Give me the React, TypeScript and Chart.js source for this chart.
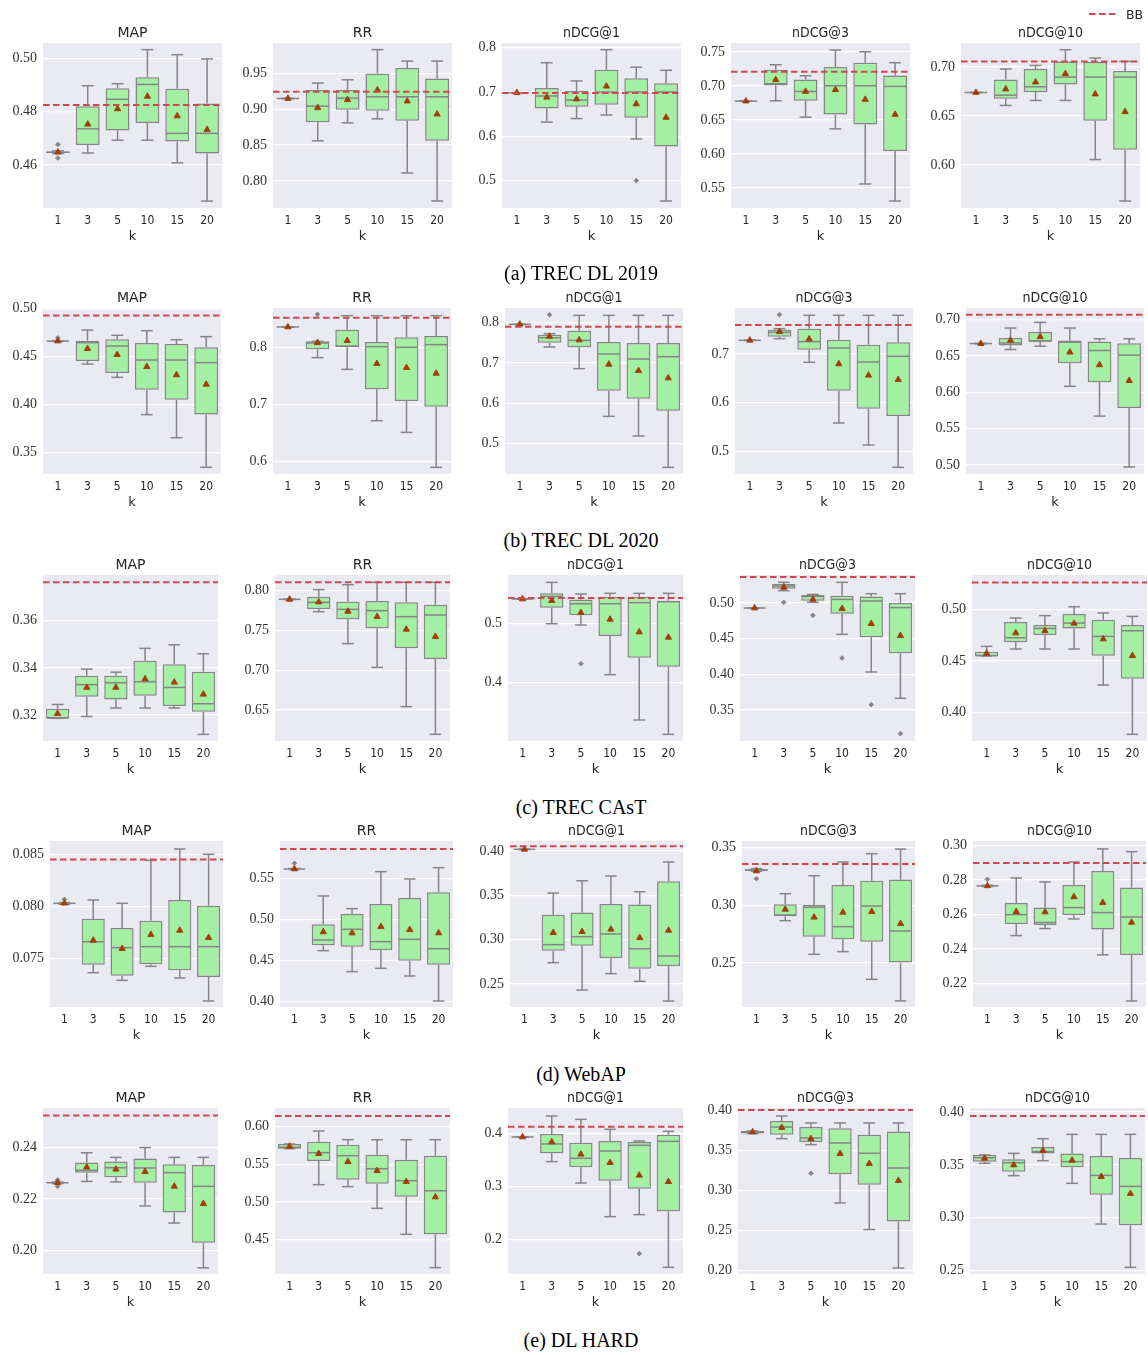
import React, { useEffect, useRef } from "react";
import { Chart, registerables } from "chart.js";

Chart.register(...registerables);

// ---------------- DATA ----------------
const K_LABELS = ["1", "3", "5", "10", "15", "20"];
const METRICS = ["MAP", "RR", "nDCG@1", "nDCG@3", "nDCG@10"];
const CAPTIONS = ["(a) TREC DL 2019", "(b) TREC DL 2020", "(c) TREC CAsT", "(d) WebAP", "(e) DL HARD"];
const LEGEND_LABEL = "BB";

// each row: [whiskerLow, q1, median, q3, whiskerHigh, mean] for k = 1,3,5,10,15,20
// ---- (a) TREC DL 2019
const DL19_MAP = [
  [0.4643, 0.4645, 0.4648, 0.4651, 0.4653, 0.4648],
  [0.4645, 0.4675, 0.4736, 0.4821, 0.4898, 0.4753],
  [0.4693, 0.473, 0.4847, 0.4889, 0.4906, 0.4811],
  [0.4693, 0.4758, 0.4903, 0.493, 0.5034, 0.4858],
  [0.4608, 0.4688, 0.4719, 0.4887, 0.5015, 0.4784],
  [0.4464, 0.4643, 0.4719, 0.4831, 0.4999, 0.4733],
];
const DL19_RR = [
  [0.9148, 0.9148, 0.915, 0.9152, 0.9152, 0.915],
  [0.8559, 0.882, 0.9043, 0.9267, 0.9365, 0.902],
  [0.881, 0.8992, 0.9155, 0.9267, 0.9411, 0.9132],
  [0.8866, 0.8978, 0.9174, 0.95, 0.9831, 0.9267],
  [0.8111, 0.8838, 0.9174, 0.9575, 0.9672, 0.9113],
  [0.772, 0.8559, 0.9174, 0.943, 0.9672, 0.8931],
];
const DL19_NDCG1 = [
  [0.698, 0.698, 0.6983, 0.6986, 0.6986, 0.6983],
  [0.632, 0.663, 0.691, 0.709, 0.766, 0.688],
  [0.64, 0.667, 0.682, 0.702, 0.725, 0.684],
  [0.648, 0.671, 0.7, 0.75, 0.7955, 0.713],
  [0.594, 0.642, 0.7, 0.731, 0.756, 0.673],
  [0.454, 0.577, 0.7, 0.72, 0.749, 0.6425],
];
const DL19_NDCG3 = [
  [0.6775, 0.6775, 0.6778, 0.678, 0.678, 0.6778],
  [0.6783, 0.7009, 0.7033, 0.724, 0.7313, 0.7092],
  [0.6542, 0.6783, 0.692, 0.7097, 0.7151, 0.692],
  [0.637, 0.6581, 0.7004, 0.7279, 0.753, 0.6945],
  [0.5559, 0.6434, 0.7004, 0.7343, 0.7505, 0.6802],
  [0.5308, 0.6045, 0.6994, 0.7156, 0.7343, 0.6581],
];
const DL19_NDCG10 = [
  [0.6738, 0.6738, 0.674, 0.6742, 0.6742, 0.674],
  [0.6608, 0.6676, 0.6713, 0.6874, 0.698, 0.6775],
  [0.6659, 0.6744, 0.6799, 0.698, 0.7017, 0.6846],
  [0.6659, 0.6823, 0.6898, 0.7058, 0.7177, 0.6932],
  [0.6055, 0.6451, 0.6898, 0.7051, 0.7092, 0.6724],
  [0.5631, 0.6154, 0.6898, 0.6959, 0.7058, 0.6543],
];
const DL19_OUT = [[[0, 0.4677], [0, 0.4626]], [], [[4, 0.5]], [], []];
const DL19_BB = [0.4826, 0.9244, 0.698, 0.721, 0.7058];
const DL19_TICKS = [
  ["0.46", "0.48", "0.50"],
  ["0.80", "0.85", "0.90", "0.95"],
  ["0.5", "0.6", "0.7", "0.8"],
  ["0.55", "0.60", "0.65", "0.70", "0.75"],
  ["0.60", "0.65", "0.70"],
];
const DL19_YMIN = [0.4438, 0.7622, 0.4382, 0.5205, 0.556];
const DL19_YMAX = [0.5059, 0.9924, 0.8106, 0.7633, 0.7246];

// ---- (b) TREC DL 2020
const DL20_MAP = [
  [0.4658, 0.466, 0.4662, 0.4664, 0.4666, 0.4662],
  [0.4422, 0.4454, 0.4645, 0.4666, 0.4777, 0.4582],
  [0.4283, 0.4328, 0.461, 0.468, 0.4722, 0.452],
  [0.3894, 0.4154, 0.4464, 0.4642, 0.477, 0.4395],
  [0.3653, 0.405, 0.4464, 0.4631, 0.4676, 0.4308],
  [0.3344, 0.3894, 0.4436, 0.4596, 0.4708, 0.421],
];
const DL20_RR = [
  [0.836, 0.8361, 0.8363, 0.8365, 0.8366, 0.8363],
  [0.7825, 0.7971, 0.8082, 0.8111, 0.8111, 0.8088],
  [0.762, 0.8006, 0.8029, 0.8316, 0.8561, 0.8123],
  [0.6719, 0.7269, 0.8018, 0.8099, 0.8561, 0.7719],
  [0.6515, 0.7064, 0.8006, 0.8181, 0.8561, 0.7649],
  [0.5901, 0.6965, 0.8053, 0.8205, 0.8561, 0.755],
];
const DL20_NDCG1 = [
  [0.7955, 0.7958, 0.796, 0.7962, 0.7965, 0.796],
  [0.7397, 0.7504, 0.7628, 0.7702, 0.7727, 0.7661],
  [0.686, 0.7388, 0.7562, 0.7802, 0.8182, 0.757],
  [0.5678, 0.6314, 0.7223, 0.7521, 0.8182, 0.6967],
  [0.519, 0.6116, 0.7099, 0.7496, 0.8182, 0.681],
  [0.4413, 0.5818, 0.7157, 0.7496, 0.8182, 0.6628],
];
const DL20_NDCG3 = [
  [0.7278, 0.7279, 0.7281, 0.7283, 0.7284, 0.7281],
  [0.7315, 0.7356, 0.7445, 0.75, 0.752, 0.7459],
  [0.6829, 0.7089, 0.7253, 0.752, 0.7795, 0.7308],
  [0.5582, 0.6247, 0.7123, 0.7295, 0.7795, 0.6795],
  [0.513, 0.5877, 0.6836, 0.7192, 0.7795, 0.6562],
  [0.4671, 0.5726, 0.6952, 0.724, 0.7795, 0.6473],
];
const DL20_NDCG10 = [
  [0.6668, 0.6669, 0.6671, 0.6673, 0.6675, 0.6671],
  [0.659, 0.6645, 0.668, 0.6747, 0.6885, 0.6714],
  [0.6636, 0.67, 0.6705, 0.683, 0.6963, 0.6765],
  [0.6083, 0.64, 0.669, 0.6714, 0.6885, 0.6553],
  [0.5673, 0.6138, 0.6576, 0.67, 0.6737, 0.6378],
  [0.4972, 0.5783, 0.6512, 0.6677, 0.6737, 0.6161],
];
const DL20_OUT = [[[0, 0.4695]], [[1, 0.8585]], [[1, 0.8198]], [[1, 0.7808]], []];
const DL20_BB = [0.493, 0.8526, 0.79, 0.7596, 0.7069];
const DL20_TICKS = [
  ["0.35", "0.40", "0.45", "0.50"],
  ["0.6", "0.7", "0.8"],
  ["0.5", "0.6", "0.7", "0.8"],
  ["0.5", "0.6", "0.7"],
  ["0.50", "0.55", "0.60", "0.65", "0.70"],
];
const DL20_YMIN = [0.3274, 0.5784, 0.4248, 0.4534, 0.4876];
const DL20_YMAX = [0.5007, 0.8696, 0.8364, 0.7945, 0.7161];

// ---- (c) TREC CAsT
const CAST_MAP = [
  [0.3186, 0.3186, 0.3187, 0.3227, 0.3245, 0.3206],
  [0.3194, 0.3278, 0.3329, 0.3367, 0.3395, 0.3317],
  [0.323, 0.3266, 0.3337, 0.3367, 0.3382, 0.3317],
  [0.323, 0.3282, 0.3341, 0.343, 0.3483, 0.3353],
  [0.323, 0.3238, 0.3317, 0.3416, 0.3498, 0.3339],
  [0.3118, 0.3214, 0.3248, 0.3384, 0.346, 0.3288],
];
const CAST_RR = [
  [0.7888, 0.7889, 0.7891, 0.7893, 0.7894, 0.7891],
  [0.7736, 0.7769, 0.7853, 0.7925, 0.8013, 0.7857],
  [0.7334, 0.764, 0.7765, 0.7862, 0.8075, 0.774],
  [0.7036, 0.7526, 0.7749, 0.787, 0.8105, 0.7673],
  [0.6542, 0.7275, 0.7673, 0.7853, 0.8105, 0.7514],
  [0.6194, 0.7141, 0.7694, 0.7824, 0.8105, 0.7422],
];
const CAST_NDCG1 = [
  [0.5405, 0.5407, 0.541, 0.5413, 0.5415, 0.541],
  [0.4994, 0.5264, 0.5455, 0.5506, 0.5691, 0.5382],
  [0.4972, 0.5135, 0.5331, 0.5404, 0.5494, 0.518],
  [0.4135, 0.4787, 0.5331, 0.5449, 0.5506, 0.5067],
  [0.3371, 0.4421, 0.5348, 0.5449, 0.5506, 0.4854],
  [0.3129, 0.427, 0.5365, 0.5382, 0.5506, 0.4764],
];
const CAST_NDCG3 = [
  [0.4926, 0.4928, 0.493, 0.4932, 0.4934, 0.493],
  [0.5173, 0.5201, 0.5238, 0.5266, 0.529, 0.522],
  [0.501, 0.5033, 0.5093, 0.5112, 0.5121, 0.5051],
  [0.4561, 0.485, 0.5051, 0.5103, 0.529, 0.4921],
  [0.4033, 0.4519, 0.5028, 0.5093, 0.5131, 0.471],
  [0.3664, 0.4294, 0.4935, 0.5, 0.5131, 0.4542],
];
const CAST_NDCG10 = [
  [0.4549, 0.4549, 0.4552, 0.4591, 0.4643, 0.4575],
  [0.4617, 0.4682, 0.4727, 0.488, 0.4919, 0.4773],
  [0.4617, 0.4753, 0.4818, 0.4851, 0.4942, 0.4795],
  [0.4617, 0.4818, 0.487, 0.4958, 0.5029, 0.4867],
  [0.4266, 0.4552, 0.474, 0.4903, 0.4968, 0.4714],
  [0.3786, 0.4328, 0.4795, 0.4851, 0.4935, 0.4552],
];
const CAST_OUT = [
  [],
  [],
  [[2, 0.432]],
  [[1, 0.501], [2, 0.4827], [3, 0.4229], [4, 0.3575], [5, 0.3168]],
  [],
];
const CAST_BB = [0.3763, 0.8105, 0.5427, 0.5364, 0.5266];
const CAST_TICKS = [
  ["0.32", "0.34", "0.36"],
  ["0.65", "0.70", "0.75", "0.80"],
  ["0.4", "0.5"],
  ["0.35", "0.40", "0.45", "0.50"],
  ["0.40", "0.45", "0.50"],
];
const CAST_YMIN = [0.309, 0.611, 0.3017, 0.3065, 0.3721];
const CAST_YMAX = [0.3794, 0.8197, 0.5815, 0.5393, 0.5338];

// ---- (d) WebAP
const WEBAP_MAP = [
  [0.0802, 0.08025, 0.08029, 0.08033, 0.08036, 0.08029],
  [0.07362, 0.07439, 0.0766, 0.07881, 0.08061, 0.07673],
  [0.07288, 0.07333, 0.07603, 0.07792, 0.08029, 0.07593],
  [0.07423, 0.07442, 0.07612, 0.07862, 0.08442, 0.07728],
  [0.07311, 0.07385, 0.07612, 0.08061, 0.08551, 0.07769],
  [0.0709, 0.0732, 0.07612, 0.08006, 0.085, 0.07699],
];
const WEBAP_RR = [
  [0.5612, 0.5615, 0.5618, 0.5621, 0.5624, 0.5618],
  [0.4622, 0.4687, 0.4752, 0.4943, 0.5289, 0.485],
  [0.4366, 0.4671, 0.4882, 0.5069, 0.5134, 0.4837],
  [0.4407, 0.463, 0.4732, 0.5191, 0.5585, 0.4915],
  [0.4313, 0.45, 0.476, 0.5264, 0.5496, 0.4878],
  [0.4008, 0.4451, 0.4646, 0.5333, 0.5634, 0.4837],
];
const WEBAP_NDCG1 = [
  [0.4015, 0.4017, 0.4019, 0.4021, 0.4023, 0.4019],
  [0.2741, 0.2876, 0.2944, 0.3282, 0.3526, 0.3079],
  [0.2432, 0.2932, 0.3034, 0.3308, 0.3665, 0.309],
  [0.2617, 0.2793, 0.3064, 0.3402, 0.3718, 0.3117],
  [0.253, 0.2673, 0.2898, 0.3398, 0.3541, 0.3023],
  [0.2308, 0.2703, 0.2816, 0.3658, 0.3876, 0.3105],
];
const WEBAP_NDCG3 = [
  [0.3295, 0.3298, 0.3306, 0.3314, 0.3318, 0.3298],
  [0.2867, 0.2905, 0.2916, 0.3009, 0.3101, 0.2965],
  [0.2575, 0.2728, 0.2983, 0.3003, 0.3257, 0.2896],
  [0.2598, 0.2705, 0.2815, 0.3176, 0.3376, 0.2939],
  [0.2358, 0.2685, 0.2994, 0.3214, 0.3448, 0.2945],
  [0.2171, 0.2503, 0.2777, 0.3223, 0.3488, 0.2841],
];
const WEBAP_NDCG10 = [
  [0.2762, 0.2764, 0.2766, 0.2768, 0.277, 0.2766],
  [0.2477, 0.2545, 0.2599, 0.2667, 0.2812, 0.2616],
  [0.2518, 0.2539, 0.2553, 0.264, 0.2789, 0.2614],
  [0.2574, 0.2597, 0.264, 0.2771, 0.2905, 0.2702],
  [0.2365, 0.2512, 0.2611, 0.2853, 0.2981, 0.2669],
  [0.2097, 0.2365, 0.2585, 0.2756, 0.2965, 0.2554],
];
const WEBAP_OUT = [[[0, 0.08067]], [[0, 0.5687]], [], [[0, 0.3231]], [[0, 0.2804]]];
const WEBAP_BB = [0.08449, 0.5862, 0.4053, 0.3358, 0.2899];
const WEBAP_TICKS = [
  ["0.075", "0.080", "0.085"],
  ["0.40", "0.45", "0.50", "0.55"],
  ["0.25", "0.30", "0.35", "0.40"],
  ["0.25", "0.30", "0.35"],
  ["0.22", "0.24", "0.26", "0.28", "0.30"],
];
const WEBAP_YMIN = [0.07032, 0.3935, 0.2241, 0.2118, 0.2062];
const WEBAP_YMAX = [0.08628, 0.5959, 0.4113, 0.3558, 0.3027];

// ---- (e) DL HARD
const DLHARD_MAP = [
  [0.226, 0.2261, 0.2263, 0.2265, 0.2266, 0.2263],
  [0.2268, 0.2302, 0.2311, 0.2341, 0.2379, 0.2323],
  [0.2266, 0.2284, 0.2321, 0.2345, 0.2361, 0.2315],
  [0.2173, 0.2263, 0.232, 0.2357, 0.2399, 0.2306],
  [0.2107, 0.2148, 0.2302, 0.2334, 0.2361, 0.2249],
  [0.1934, 0.2031, 0.2249, 0.2332, 0.2361, 0.2182],
];
const DLHARD_RR = [
  [0.5708, 0.5708, 0.5726, 0.577, 0.577, 0.5739],
  [0.523, 0.5544, 0.5655, 0.5801, 0.5942, 0.5642],
  [0.5204, 0.5296, 0.5615, 0.5761, 0.5827, 0.5535],
  [0.4916, 0.5243, 0.5442, 0.5628, 0.5827, 0.5416],
  [0.4571, 0.5071, 0.5283, 0.5562, 0.5827, 0.527],
  [0.4128, 0.4571, 0.515, 0.5615, 0.5827, 0.5066],
];
const DLHARD_NDCG1 = [
  [0.3932, 0.3934, 0.3937, 0.394, 0.3942, 0.3937],
  [0.3472, 0.3629, 0.3805, 0.3994, 0.4333, 0.3843],
  [0.3069, 0.3365, 0.3535, 0.383, 0.427, 0.361],
  [0.2434, 0.3113, 0.3673, 0.3862, 0.4082, 0.3453],
  [0.2472, 0.2962, 0.378, 0.3843, 0.3862, 0.3214],
  [0.1478, 0.2535, 0.3855, 0.3981, 0.4044, 0.3094],
];
const DLHARD_NDCG3 = [
  [0.3713, 0.3713, 0.3733, 0.3746, 0.3746, 0.3733],
  [0.365, 0.37, 0.3796, 0.3871, 0.3933, 0.3788],
  [0.3575, 0.3608, 0.3658, 0.3796, 0.3846, 0.365],
  [0.2846, 0.3204, 0.3596, 0.3779, 0.3846, 0.3463],
  [0.2513, 0.3075, 0.3467, 0.37, 0.3846, 0.3338],
  [0.2033, 0.2613, 0.3283, 0.3738, 0.3846, 0.3125],
];
const DLHARD_NDCG10 = [
  [0.3515, 0.3531, 0.3568, 0.3594, 0.3594, 0.3562],
  [0.3398, 0.3436, 0.3521, 0.3553, 0.3609, 0.3499],
  [0.354, 0.3609, 0.3625, 0.3669, 0.3748, 0.3635],
  [0.3326, 0.3477, 0.3531, 0.3609, 0.3789, 0.3543],
  [0.2941, 0.3219, 0.3401, 0.3584, 0.3789, 0.3389],
  [0.2532, 0.2929, 0.3297, 0.3565, 0.3789, 0.3228],
];
const DLHARD_OUT = [[[0, 0.2274], [0, 0.2249]], [], [[4, 0.1736]], [[2, 0.3217]], []];
const DLHARD_BB = [0.2523, 0.6142, 0.4132, 0.4008, 0.3962];
const DLHARD_TICKS = [
  ["0.20", "0.22", "0.24"],
  ["0.45", "0.50", "0.55", "0.60"],
  ["0.2", "0.3", "0.4"],
  ["0.20", "0.25", "0.30", "0.35", "0.40"],
  ["0.25", "0.30", "0.35", "0.40"],
];
const DLHARD_YMIN = [0.191, 0.4044, 0.1352, 0.1958, 0.2469];
const DLHARD_YMAX = [0.2552, 0.6248, 0.4484, 0.4033, 0.4038];

// table assembled from the arrays above
const ROWS = [
  { boxes: [DL19_MAP, DL19_RR, DL19_NDCG1, DL19_NDCG3, DL19_NDCG10], out: DL19_OUT, bb: DL19_BB, ticks: DL19_TICKS, ymin: DL19_YMIN, ymax: DL19_YMAX },
  { boxes: [DL20_MAP, DL20_RR, DL20_NDCG1, DL20_NDCG3, DL20_NDCG10], out: DL20_OUT, bb: DL20_BB, ticks: DL20_TICKS, ymin: DL20_YMIN, ymax: DL20_YMAX },
  { boxes: [CAST_MAP, CAST_RR, CAST_NDCG1, CAST_NDCG3, CAST_NDCG10], out: CAST_OUT, bb: CAST_BB, ticks: CAST_TICKS, ymin: CAST_YMIN, ymax: CAST_YMAX },
  { boxes: [WEBAP_MAP, WEBAP_RR, WEBAP_NDCG1, WEBAP_NDCG3, WEBAP_NDCG10], out: WEBAP_OUT, bb: WEBAP_BB, ticks: WEBAP_TICKS, ymin: WEBAP_YMIN, ymax: WEBAP_YMAX },
  { boxes: [DLHARD_MAP, DLHARD_RR, DLHARD_NDCG1, DLHARD_NDCG3, DLHARD_NDCG10], out: DLHARD_OUT, bb: DLHARD_BB, ticks: DLHARD_TICKS, ymin: DLHARD_YMIN, ymax: DLHARD_YMAX },
];

// ---------------- LAYOUT / STYLE ----------------
const ROW_TOP = [43, 308, 575, 841, 1108];
const ROW_H = [165, 166, 166, 166, 166];
const ROW_LEFTS = [
  [43, 273, 502, 731, 961],
  [43, 273, 505, 735, 966],
  [43, 275, 508, 740, 972],
  [50, 280, 510, 742, 973],
  [43, 275, 508, 738, 970],
];
const ROW_W = [184, 183, 180, 178, 180];
const CAPTION_Y = [273, 540, 807, 1074, 1340];
const YAXIS_W = 48;
const TITLE_H = 22;
const XAXIS_H = 40;

const BG = "#eaeaf2";
const BOX_FILL = "#a3f0a3";
const LINE_GRAY = "#858585";
const MEAN_COLOR = "#a23e0c";
const BB_RED = "#d0484f";
const TEXT = "#262626";
const SANS = "'DejaVu Sans', sans-serif";
const SANS_COND = "'DejaVu Sans Condensed', 'DejaVu Sans', sans-serif";
const SERIF = "'Liberation Serif', serif";

type PanelProps = {
  title: string;
  box: number[][];
  out: number[][];
  bb: number;
  ticks: string[];
  ymin: number;
  ymax: number;
  left: number;
  top: number;
  width: number;
  height: number;
};

function BoxPanel(p: PanelProps) {
  const ref = useRef<HTMLCanvasElement | null>(null);
  const cw = YAXIS_W + p.width;
  const ch = TITLE_H + p.height + XAXIS_H;

  useEffect(() => {
    if (!ref.current) return;
    const tickVals = p.ticks.map((t) => parseFloat(t));
    const isNdcg = p.title.startsWith("nDCG");

    const bgPlugin = {
      id: "bgfill",
      beforeDraw(chart: any) {
        const { ctx, chartArea: a } = chart;
        ctx.save();
        ctx.fillStyle = BG;
        ctx.fillRect(a.left, a.top, a.right - a.left, a.bottom - a.top);
        ctx.restore();
      },
    };

    const titlePlugin = {
      id: "paneltitle",
      afterDraw(chart: any) {
        const { ctx, chartArea: a } = chart;
        ctx.save();
        ctx.fillStyle = TEXT;
        ctx.font = `14px ${isNdcg ? SANS_COND : SANS}`;
        ctx.textAlign = "center";
        ctx.textBaseline = "middle";
        ctx.fillText(p.title, (a.left + a.right) / 2, a.top - 10);
        ctx.restore();
      },
    };

    const whiskerPlugin = {
      id: "whiskers",
      afterDatasetDraw(chart: any, args: any) {
        if (args.index !== 0) return;
        const { ctx } = chart;
        const xs = chart.scales.x;
        const ys = chart.scales.y;
        const catW = xs.getPixelForValue(1) - xs.getPixelForValue(0);
        const half = (catW * 0.8) / 2;
        ctx.save();
        ctx.strokeStyle = LINE_GRAY;
        ctx.lineWidth = 1.5;
        const seg = (x1: number, y1: number, x2: number, y2: number) => {
          ctx.beginPath();
          ctx.moveTo(x1, y1);
          ctx.lineTo(x2, y2);
          ctx.stroke();
        };
        p.box.forEach((b, i) => {
          const cx = xs.getPixelForValue(i);
          const yLo = ys.getPixelForValue(b[0]);
          const yQ1 = ys.getPixelForValue(b[1]);
          const yMed = ys.getPixelForValue(b[2]);
          const yQ3 = ys.getPixelForValue(b[3]);
          const yHi = ys.getPixelForValue(b[4]);
          seg(cx, yLo, cx, yQ1);
          seg(cx, yQ3, cx, yHi);
          seg(cx - half / 2, yLo, cx + half / 2, yLo);
          seg(cx - half / 2, yHi, cx + half / 2, yHi);
          seg(cx - half + 0.75, yMed, cx + half - 0.75, yMed);
        });
        ctx.restore();
      },
    };

    const bbPlugin = {
      id: "bbline",
      afterDatasetsDraw(chart: any) {
        const { ctx, chartArea: a } = chart;
        const y = chart.scales.y.getPixelForValue(p.bb);
        ctx.save();
        ctx.beginPath();
        ctx.rect(a.left, a.top, a.right - a.left, a.bottom - a.top);
        ctx.clip();
        ctx.strokeStyle = BB_RED;
        ctx.lineWidth = 2;
        ctx.setLineDash([6.5, 3.5]);
        ctx.beginPath();
        ctx.moveTo(a.left, y);
        ctx.lineTo(a.right, y);
        ctx.stroke();
        ctx.restore();
      },
    };

    const chart = new Chart(ref.current, {
      type: "bar",
      data: {
        labels: K_LABELS,
        datasets: [
          {
            type: "bar",
            data: p.box.map((b) => [b[1], b[3]]),
            backgroundColor: BOX_FILL,
            borderColor: LINE_GRAY,
            borderWidth: 1.5,
            borderSkipped: false,
            barPercentage: 0.8,
            categoryPercentage: 1,
            order: 2,
          } as any,
          {
            type: "line",
            data: p.out.map((o) => ({ x: K_LABELS[o[0]], y: o[1] })),
            showLine: false,
            pointStyle: "rectRot",
            pointRadius: 2.3,
            pointBackgroundColor: LINE_GRAY,
            pointBorderColor: LINE_GRAY,
            pointBorderWidth: 1,
            order: 1,
          } as any,
          {
            type: "line",
            data: p.box.map((b) => b[5]),
            showLine: false,
            pointStyle: "triangle",
            pointRadius: 3.6,
            pointBackgroundColor: MEAN_COLOR,
            pointBorderColor: MEAN_COLOR,
            pointBorderWidth: 1,
            order: 0,
          } as any,
        ],
      },
      options: {
        responsive: false,
        animation: false,
        events: [],
        layout: { padding: { top: TITLE_H, left: 0, right: 0, bottom: 0 } },
        plugins: {
          legend: { display: false },
          tooltip: { enabled: false },
          title: { display: false },
        },
        scales: {
          x: {
            type: "category",
            offset: true,
            grid: { display: false, drawTicks: false },
            border: { display: false },
            ticks: {
              color: TEXT,
              font: { family: SANS_COND, size: 12 },
              padding: 6,
              maxRotation: 0,
              autoSkip: false,
            },
            title: {
              display: true,
              text: "k",
              color: TEXT,
              font: { family: SANS, size: 13 },
              padding: { top: 0, bottom: 4 },
            },
            afterFit: (s: any) => {
              s.height = XAXIS_H;
            },
          },
          y: {
            type: "linear",
            min: p.ymin,
            max: p.ymax,
            grid: { color: "#ffffff", lineWidth: 1.3, drawTicks: false },
            border: { display: false },
            ticks: {
              color: "#333333",
              font: { family: SERIF, size: 14 },
              padding: 6,
              callback: (_v: any, i: number) => p.ticks[i],
            },
            afterBuildTicks: (s: any) => {
              s.ticks = tickVals.map((v) => ({ value: v }));
            },
            afterFit: (s: any) => {
              s.width = YAXIS_W;
            },
          },
        },
      } as any,
      plugins: [bgPlugin, whiskerPlugin, bbPlugin, titlePlugin],
    });
    return () => chart.destroy();
  }, []);

  return (
    <canvas
      ref={ref}
      width={cw}
      height={ch}
      style={{
        position: "absolute",
        left: p.left - YAXIS_W,
        top: p.top - TITLE_H,
        width: cw,
        height: ch,
      }}
    />
  );
}

export default function App() {
  return (
    <div
      style={{
        position: "absolute",
        left: 0,
        top: 0,
        width: 1148,
        height: 1355,
        overflow: "hidden",
        background: "#ffffff",
      }}
    >
      {ROWS.map((row, r) =>
        METRICS.map((m, c) => (
          <BoxPanel
            key={`${r}-${c}`}
            title={m}
            box={row.boxes[c]}
            out={row.out[c]}
            bb={row.bb[c]}
            ticks={row.ticks[c]}
            ymin={row.ymin[c]}
            ymax={row.ymax[c]}
            left={ROW_LEFTS[r][c]}
            top={ROW_TOP[r]}
            width={ROW_W[r]}
            height={ROW_H[r]}
          />
        ))
      )}
      {CAPTIONS.map((cap, r) => (
        <div
          key={cap}
          style={{
            position: "absolute",
            left: 581,
            top: CAPTION_Y[r],
            transform: "translate(-50%, -50%)",
            fontFamily: SERIF,
            fontSize: 20,
            lineHeight: 1,
            color: "#000",
            whiteSpace: "nowrap",
          }}
        >
          {cap}
        </div>
      ))}
      <svg
        width={1148}
        height={30}
        style={{ position: "absolute", left: 0, top: 0 }}
      >
        <line x1={1089} y1={14} x2={1118} y2={14} stroke={BB_RED} strokeWidth={2} strokeDasharray="6.5 3.5" />
        <text x={1126} y={18.5} fontFamily="DejaVu Sans, sans-serif" fontSize={12.5} fill={TEXT}>
          {LEGEND_LABEL}
        </text>
      </svg>
    </div>
  );
}
